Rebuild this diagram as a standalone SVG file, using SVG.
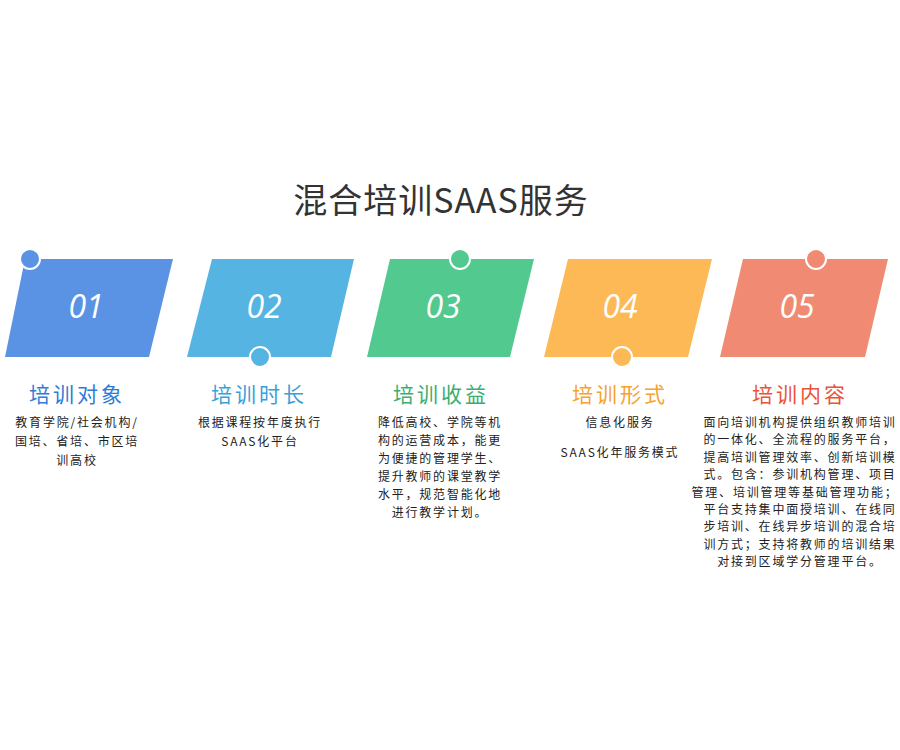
<svg xmlns="http://www.w3.org/2000/svg" width="900" height="750" viewBox="0 0 900 750">
<style>
.num{font-family:"Open Sans","Liberation Sans",sans-serif;font-style:italic;font-size:32px;fill:#fff;text-anchor:middle}
.h{font-family:"Noto Sans CJK SC",sans-serif;font-size:21px;text-anchor:middle;letter-spacing:3px}
.b{font-family:"Noto Sans CJK SC",sans-serif;font-size:12px;fill:#222;text-anchor:middle;letter-spacing:1.8px}
.dot{stroke:#fff;stroke-width:2}
</style>
<rect width="900" height="750" fill="#fff"/>
<text x="441" y="213" font-family="Noto Sans CJK SC,sans-serif" font-size="34" letter-spacing="1" fill="#333" text-anchor="middle">混合培训SAAS服务</text>
<g id="n1"><polygon points="25,259 173,259 149,357 5,357" fill="#5b93e4"/><circle class="dot" cx="30" cy="259" r="10" fill="#5b93e4"/><text class="num" x="86" y="318">01</text>
<text class="h" x="77" y="402" fill="#2f7bd6">培训对象</text>
<text class="b" x="77" y="427">教育学院/社会机构/</text><text class="b" x="77" y="446">国培、省培、市区培</text><text class="b" x="77" y="465">训高校</text></g>
<g id="n2"><polygon points="212,259 354,259 331,357 187,357" fill="#56b4e2"/><circle class="dot" cx="260" cy="357" r="10" fill="#56b4e2"/><text class="num" x="264" y="318">02</text>
<text class="h" x="259" y="402" fill="#3a9fd8">培训时长</text>
<text class="b" x="260" y="427">根据课程按年度执行</text><text class="b" x="260" y="446">SAAS化平台</text></g>
<g id="n3"><polygon points="390,259 534,259 510,357 367,357" fill="#52c98f"/><circle class="dot" cx="460" cy="259" r="10" fill="#52c98f"/><text class="num" x="443" y="318">03</text>
<text class="h" x="441" y="402" fill="#3cae6e">培训收益</text>
<text class="b" x="440" y="427">降低高校、学院等机</text><text class="b" x="440" y="445">构的运营成本，能更</text><text class="b" x="440" y="463">为便捷的管理学生、</text><text class="b" x="440" y="481">提升教师的课堂教学</text><text class="b" x="440" y="499">水平，规范智能化地</text><text class="b" x="440" y="517">进行教学计划。</text></g>
<g id="n4"><polygon points="568,259 712,259 688,357 544,357" fill="#fdb955"/><circle class="dot" cx="622" cy="357" r="10" fill="#fdb955"/><text class="num" x="620" y="318">04</text>
<text class="h" x="620" y="402" fill="#f7a230">培训形式</text>
<text class="b" x="620" y="427">信息化服务</text><text class="b" x="620" y="457">SAAS化年服务模式</text></g>
<g id="n5"><polygon points="743,259 888,259 865,357 720,357" fill="#f08a72"/><circle class="dot" cx="816" cy="259" r="10" fill="#f08a72"/><text class="num" x="797" y="318">05</text>
<text class="h" x="800" y="402" fill="#e8533a">培训内容</text>
<text class="b" x="800" y="427">面向培训机构提供组织教师培训</text><text class="b" x="800" y="444">的一体化、全流程的服务平台，</text><text class="b" x="800" y="462">提高培训管理效率、创新培训模</text><text class="b" x="800" y="479">式。包含：参训机构管理、项目</text><text class="b" x="795" y="497" letter-spacing="0.5">管理、培训管理等基础管理功能；</text><text class="b" x="800" y="514">平台支持集中面授培训、在线同</text><text class="b" x="800" y="531">步培训、在线异步培训的混合培</text><text class="b" x="800" y="549">训方式；支持将教师的培训结果</text><text class="b" x="800" y="566">对接到区域学分管理平台。</text></g>
<g id="connectors"/>
</svg>
